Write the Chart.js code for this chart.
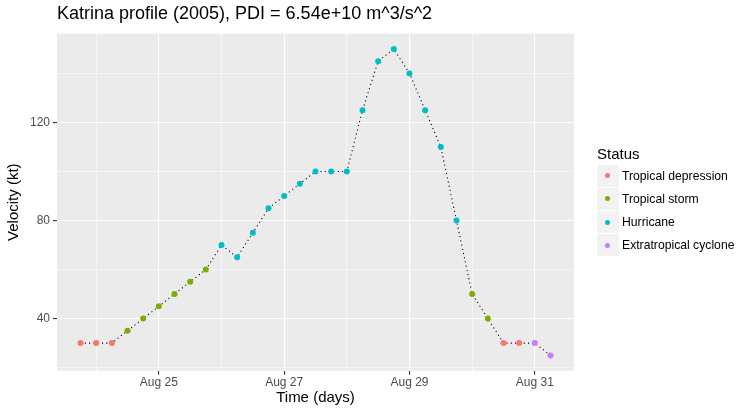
<!DOCTYPE html>
<html>
<head>
<meta charset="utf-8">
<title>Katrina profile (2005)</title>
<script src="https://cdn.jsdelivr.net/npm/chart.js@4.4.0/dist/chart.umd.min.js"></script>
<style>
  html, body { margin: 0; padding: 0; background: #fff; }
  #wrap { position: relative; width: 750px; height: 415px; font-family: 'Liberation Sans', Arial, sans-serif; }
  #chart { position: absolute; left: 0; top: 0; }
  .ltitle { position: absolute; left: 597px; top: 145px; font-size: 15px; line-height: 17px; color: #000; white-space: nowrap; }
  .lrow { position: absolute; left: 597px; height: 22px; display: flex; align-items: center; white-space: nowrap; }
  .lkey { width: 21.5px; height: 22px; background: #F2F2F2; position: relative; }
  .ldot { position: absolute; left: 50%; top: 50%; width: 5px; height: 5px; margin: -2.5px 0 0 -2.5px; border-radius: 50%; }
  .ltext { margin-left: 3.5px; font-size: 12.2px; color: #000; }
</style>
</head>
<body>
<div id="wrap">
  <canvas id="chart" width="750" height="415"></canvas>
  <div id="legend"></div>
</div>
<script>
// 6-hourly best track, Aug 2005
const times = [
  '08-23 18:00', '08-24 00:00', '08-24 06:00', '08-24 12:00', '08-24 18:00',
  '08-25 00:00', '08-25 06:00', '08-25 12:00', '08-25 18:00',
  '08-26 00:00', '08-26 06:00', '08-26 12:00', '08-26 18:00',
  '08-27 00:00', '08-27 06:00', '08-27 12:00', '08-27 18:00',
  '08-28 00:00', '08-28 06:00', '08-28 12:00', '08-28 18:00',
  '08-29 00:00', '08-29 06:00', '08-29 12:00', '08-29 18:00',
  '08-30 00:00', '08-30 06:00', '08-30 12:00', '08-30 18:00',
  '08-31 00:00', '08-31 06:00'
];
const velocity = [
  30, 30, 30, 35, 40,
  45, 50, 55, 60,
  70, 65, 75, 85,
  90, 95, 100, 100,
  100, 125, 145, 150,
  140, 125, 110, 80,
  50, 40, 30, 30,
  30, 25
];
const status = [
  'TD', 'TD', 'TD', 'TS', 'TS',
  'TS', 'TS', 'TS', 'TS',
  'HU', 'HU', 'HU', 'HU',
  'HU', 'HU', 'HU', 'HU',
  'HU', 'HU', 'HU', 'HU',
  'HU', 'HU', 'HU', 'HU',
  'TS', 'TS', 'TD', 'TD',
  'EX', 'EX'
];

const statusCodes = ['TD', 'TS', 'HU', 'EX'];
const statusNames = ['Tropical depression', 'Tropical storm', 'Hurricane', 'Extratropical cyclone'];
const statusColors = ['#F8766D', '#7CAE00', '#00BFC4', '#C77CFF'];

const xTicks = [24, 25, 26, 27, 28, 29, 30, 31];
const xMajor = [25, 27, 29, 31];
const yTicks = [20, 40, 60, 80, 100, 120, 140];
const yMajor = [40, 80, 120];

// day of month with fractional hours
function toDay(s) {
  const [md, hm] = s.split(' ');
  return Number(md.split('-')[1]) + Number(hm.split(':')[0]) / 24;
}

const days = times.map(toDay);
const points = days.map((d, i) => ({ x: d, y: velocity[i] }));

// ggplot-like 5% expansion
const xSpan = days[days.length - 1] - days[0];
const ySpan = Math.max(...velocity) - Math.min(...velocity);
const xMin = days[0] - xSpan * 0.05, xMax = days[days.length - 1] + xSpan * 0.05;
const yMin = Math.min(...velocity) - ySpan * 0.05, yMax = Math.max(...velocity) + ySpan * 0.05;

const datasets = statusCodes.map((code, k) => ({
  type: 'scatter',
  label: statusNames[k],
  data: points.filter((p, i) => status[i] === code),
  backgroundColor: statusColors[k],
  borderWidth: 0,
  pointRadius: 3,
  pointHoverRadius: 3,
  order: 0
}));

datasets.push({
  type: 'line',
  label: 'track',
  data: points,
  borderColor: '#000',
  borderWidth: 1.1,
  borderDash: [1.1, 3.2],
  pointRadius: 0,
  fill: false,
  tension: 0,
  order: 1
});

const panelBg = {
  id: 'panelBg',
  beforeDraw(chart) {
    const { ctx, chartArea: a } = chart;
    ctx.save();
    ctx.fillStyle = '#EBEBEB';
    ctx.fillRect(a.left, a.top, a.right - a.left, a.bottom - a.top);
    ctx.restore();
  }
};

const font = 'Liberation Sans';

new Chart(document.getElementById('chart'), {
  data: { datasets },
  options: {
    responsive: false,
    animation: false,
    layout: { padding: { top: 0, right: 176, bottom: 0, left: 0 } },
    plugins: {
      legend: { display: false },
      tooltip: { enabled: false },
      title: {
        display: true,
        text: 'Katrina profile (2005), PDI = 6.54e+10 m^3/s^2',
        align: 'start',
        fullSize: false,
        color: '#000',
        font: { family: font, size: 18, weight: 'normal' },
        padding: { top: 3, bottom: 9 }
      }
    },
    scales: {
      x: {
        type: 'linear',
        min: xMin,
        max: xMax,
        afterBuildTicks: axis => { axis.ticks = xTicks.map(v => ({ value: v })); },
        afterFit: axis => { axis.height = 44.3; },
        border: { display: false },
        grid: {
          color: '#FFFFFF',
          lineWidth: c => xMajor.includes(c.tick.value) ? 1.1 : 0.55,
          tickLength: 4,
          tickColor: c => xMajor.includes(c.tick.value) ? '#333333' : 'rgba(0,0,0,0)',
          tickWidth: 1.1
        },
        ticks: {
          autoSkip: false,
          maxRotation: 0,
          padding: 1,
          color: '#4D4D4D',
          font: { family: font, size: 12 },
          callback: v => xMajor.includes(v) ? 'Aug ' + v : ''
        },
        title: {
          display: true,
          text: 'Time (days)',
          color: '#000',
          font: { family: font, size: 15 },
          padding: { top: 0, bottom: 8.5 }
        }
      },
      y: {
        type: 'linear',
        min: yMin,
        max: yMax,
        afterBuildTicks: axis => { axis.ticks = yTicks.map(v => ({ value: v })); },
        afterFit: axis => { axis.width = 57; },
        border: { display: false },
        grid: {
          color: '#FFFFFF',
          lineWidth: c => yMajor.includes(c.tick.value) ? 1.1 : 0.55,
          tickLength: 4,
          tickColor: c => yMajor.includes(c.tick.value) ? '#333333' : 'rgba(0,0,0,0)',
          tickWidth: 1.1
        },
        ticks: {
          autoSkip: false,
          padding: 3,
          color: '#4D4D4D',
          font: { family: font, size: 12 },
          callback: v => yMajor.includes(v) ? String(v) : ''
        },
        title: {
          display: true,
          text: 'Velocity (kt)',
          color: '#000',
          font: { family: font, size: 15 },
          padding: { top: 5, bottom: 0 }
        }
      }
    }
  },
  plugins: [panelBg]
});

// legend in the ggplot style
const legend = document.getElementById('legend');
let html = '<div class="ltitle">Status</div>';
statusNames.forEach((name, k) => {
  const top = 164.5 + k * 23.3;
  html += '<div class="lrow" style="top:' + top + 'px">' +
    '<div class="lkey"><div class="ldot" style="background:' + statusColors[k] + '"></div></div>' +
    '<div class="ltext">' + name + '</div></div>';
});
legend.innerHTML = html;
</script>
</body>
</html>
